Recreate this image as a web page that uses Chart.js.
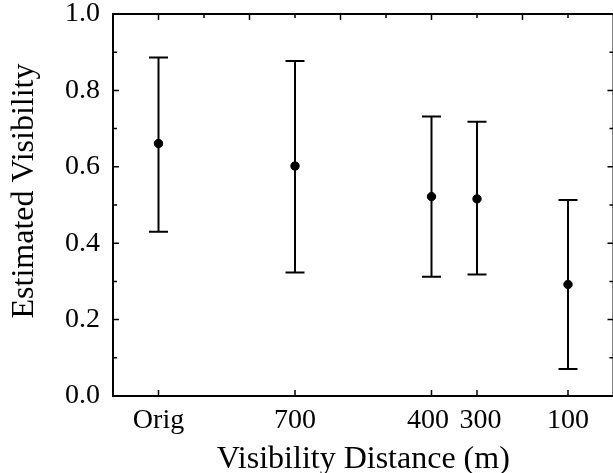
<!DOCTYPE html>
<html>
<head>
<meta charset="utf-8">
<script src="https://cdn.jsdelivr.net/npm/chart.js@4/dist/chart.umd.min.js"></script>
<style>
  body { margin: 0; overflow: hidden; background: #fff; }
</style>
</head>
<body>
<canvas id="grafico" width="625" height="480"></canvas>
<script>
// values
var categorias = ['Orig', '700', '400', '300', '100'];
var distancias = [1000, 700, 400, 300, 100];
var medias = [0.661, 0.602, 0.522, 0.516, 0.292];
var inferior = [0.430, 0.323, 0.312, 0.318, 0.071];
var superior = [0.886, 0.877, 0.732, 0.718, 0.513];

// tick marks on the frame
var ticksArriba = [1000, 900, 800, 700, 600, 500, 400, 300, 200, 100];
var ticksMenoresY = [0.1, 0.3, 0.5, 0.7, 0.9];
var ticksMayoresY = [0.2, 0.4, 0.6, 0.8];

var fuente = 'Liberation Serif, Times New Roman, serif';
var tituloY = 'Estimated Visibility';

// points for the error bars, one segment per category, null breaks the line
var barras = [];
distancias.forEach(function(d, i) {
    barras.push({ x: d, y: inferior[i] });
    barras.push({ x: d, y: superior[i] });
    barras.push({ x: d, y: null });
});

var puntos = distancias.map(function(d, i) {
    return { x: d, y: medias[i] };
});

// box around the plot with inward ticks, plus the y title
var marco = {
    id: 'marco',
    afterDraw: function(chart) {
        var ctx = chart.ctx;
        var a = chart.chartArea;
        var sx = chart.scales.x;
        var sy = chart.scales.y;
        ctx.save();
        ctx.strokeStyle = '#000';
        ctx.lineWidth = 2;
        ctx.strokeRect(a.left, a.top, a.right - a.left, a.bottom - a.top);

        ctx.lineWidth = 1.5;
        ctx.beginPath();
        distancias.forEach(function(d) {
            var px = sx.getPixelForValue(d);
            ctx.moveTo(px, a.bottom);
            ctx.lineTo(px, a.bottom - 6);
        });
        ticksArriba.forEach(function(d) {
            var px = sx.getPixelForValue(d);
            var largo = (d % 200 === 0) ? 6 : 4;
            ctx.moveTo(px, a.top);
            ctx.lineTo(px, a.top + largo);
        });
        ticksMayoresY.forEach(function(v) {
            var py = sy.getPixelForValue(v);
            ctx.moveTo(a.left, py);
            ctx.lineTo(a.left + 6, py);
            ctx.moveTo(a.right, py);
            ctx.lineTo(a.right - 6, py);
        });
        ticksMenoresY.forEach(function(v) {
            var py = sy.getPixelForValue(v);
            ctx.moveTo(a.left, py);
            ctx.lineTo(a.left + 4, py);
            ctx.moveTo(a.right, py);
            ctx.lineTo(a.right - 4, py);
        });
        ctx.stroke();

        // y title sits a bit above the middle of the plot in the original
        ctx.fillStyle = '#000';
        ctx.font = '32px ' + fuente;
        ctx.textAlign = 'center';
        ctx.textBaseline = 'alphabetic';
        ctx.translate(33, (a.top + a.bottom) / 2 - 14);
        ctx.rotate(-Math.PI / 2);
        ctx.fillText(tituloY, 0, 0);
        ctx.restore();
    }
};

Chart.defaults.color = '#000';
Chart.defaults.font.family = fuente;

var ctx = document.getElementById('grafico').getContext('2d');
new Chart(ctx, {
    type: 'scatter',
    data: {
        datasets: [{
            label: 'Mean',
            data: puntos,
            backgroundColor: '#000',
            borderColor: '#000',
            pointRadius: 4.2,
            order: 0
        }, {
            label: 'Range',
            data: barras,
            showLine: true,
            spanGaps: false,
            borderColor: '#000',
            borderWidth: 2,
            pointStyle: 'line',
            pointRadius: 9.5,
            pointBorderWidth: 2,
            pointBorderColor: '#000',
            order: 1
        }]
    },
    plugins: [marco],
    options: {
        responsive: false,
        animation: false,
        events: [],
        layout: {
            padding: { top: 14, right: 8, left: 0, bottom: 0 }
        },
        plugins: {
            legend: { display: false },
            tooltip: { enabled: false }
        },
        scales: {
            x: {
                type: 'linear',
                min: 0,
                max: 1100,
                reverse: true,
                grid: { display: false, drawTicks: false, tickLength: 0 },
                border: { display: false },
                afterBuildTicks: function(scale) {
                    scale.ticks = distancias.map(function(d) { return { value: d }; });
                },
                afterFit: function(scale) {
                    scale.height = 84;
                    scale.paddingLeft = 0;
                    scale.paddingRight = 0;
                },
                ticks: {
                    padding: 8,
                    maxRotation: 0,
                    autoSkip: false,
                    font: { size: 28 },
                    callback: function(value, index) {
                        // 400 and 300 are close, push them apart a little
                        var t = categorias[index];
                        if (value === 400) return t + ' ';
                        if (value === 300) return ' ' + t;
                        return t;
                    }
                },
                title: {
                    display: true,
                    text: 'Visibility Distance (m)',
                    font: { size: 32 },
                    padding: { top: 0, bottom: 1 }
                }
            },
            y: {
                min: 0,
                max: 1,
                grid: { display: false, drawTicks: false, tickLength: 0 },
                border: { display: false },
                afterFit: function(scale) {
                    scale.width = 113;
                    scale.paddingTop = 0;
                    scale.paddingBottom = 0;
                },
                ticks: {
                    stepSize: 0.2,
                    padding: 13,
                    font: { size: 28 },
                    callback: function(value) {
                        return value.toFixed(1);
                    }
                }
            }
        }
    }
});
</script>
</body>
</html>
